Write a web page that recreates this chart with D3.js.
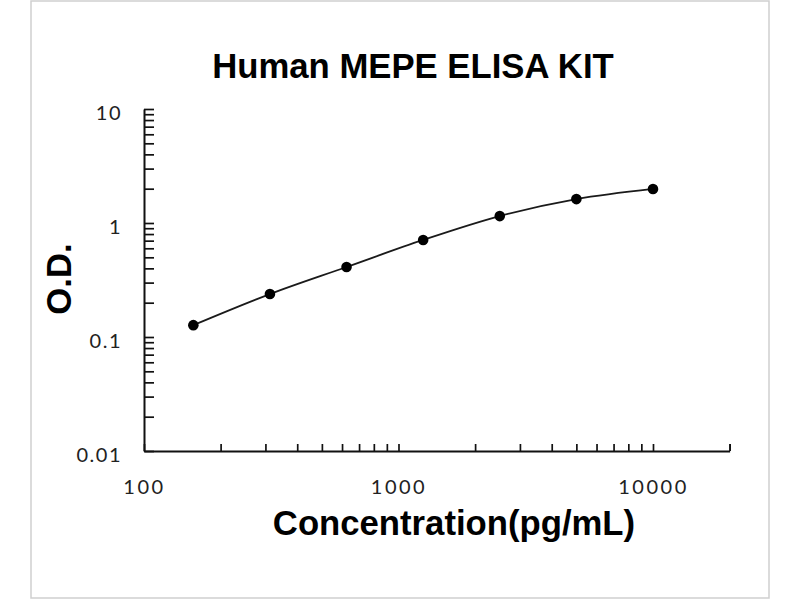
<!DOCTYPE html>
<html>
<head>
<meta charset="utf-8">
<script src="https://cdn.jsdelivr.net/npm/d3@7"></script>
<style>
  body { margin: 0; background: #fff; }
  svg { display: block; }
</style>
</head>
<body>
<svg id="chart" width="800" height="600"></svg>
<script>
// standard curve data
const concentrations = [156.25, 312.5, 625, 1250, 2500, 5000, 10000];
const odValues = [0.127, 0.238, 0.411, 0.71, 1.15, 1.62, 1.99];

const xDecades = [100, 1000, 10000];
const yDecades = [0.01, 0.1, 1, 10];
const xTickLabels = ["100", "1000", "10000"];
const yTickLabels = ["0.01", "0.1", "1", "10"];

const titleText = "Human MEPE ELISA KIT";
const xLabelText = "Concentration(pg/mL)";
const yLabelText = "O.D.";

const svg = d3.select("#chart");

// light frame round the picture
svg.append("rect")
  .attr("x", 31).attr("y", 1)
  .attr("width", 738).attr("height", 597)
  .attr("fill", "none")
  .attr("stroke", "#cfcfcf")
  .attr("stroke-width", 1.5);

const xScale = d3.scaleLog().domain([100, 20000]).range([144, 729.6]);
const yScale = d3.scaleLog().domain([0.01, 10]).range([451, 109]);

// minor ticks 1..9 per decade
const xTicks = [];
xDecades.forEach((d) => {
  for (let i = 1; i < 10; i++) {
    const v = d * i;
    if (v <= 20000) xTicks.push(v);
  }
});
xTicks.push(20000);
const yTicks = [];
yDecades.slice(0, 3).forEach((d) => {
  for (let i = 1; i < 10; i++) yTicks.push(d * i);
});
yTicks.push(10);

const xAxis = d3.axisBottom(xScale)
  .tickValues(xTicks)
  .tickSizeInner(-7)
  .tickSizeOuter(0)
  .tickPadding(29)
  .tickFormat((d) => {
    const i = xDecades.indexOf(d);
    return i >= 0 ? xTickLabels[i] : "";
  });

const yAxis = d3.axisLeft(yScale)
  .tickValues(yTicks)
  .tickSizeInner(-10)
  .tickSizeOuter(0)
  .tickPadding(22)
  .tickFormat((d) => {
    const i = yDecades.findIndex((v) => Math.abs(v - d) < v * 1e-6);
    return i >= 0 ? yTickLabels[i] : "";
  });

const gx = svg.append("g")
  .attr("transform", `translate(0,${yScale(0.01)})`)
  .call(xAxis);
const gy = svg.append("g")
  .attr("transform", `translate(${xScale(100)},0)`)
  .call(yAxis);

[gx, gy].forEach((g) => {
  g.select(".domain").attr("stroke", "#111").attr("stroke-width", 2);
  g.selectAll(".tick line").attr("stroke", "#111").attr("stroke-width", 1.7);
  g.selectAll(".tick text")
    .attr("fill", "#222")
    .style("font-family", "Lato, 'Open Sans', sans-serif")
    .style("font-size", "20px");
});
gx.selectAll(".tick text").style("letter-spacing", "2.5px");
gy.selectAll(".tick text").style("letter-spacing", "1.5px").attr("dy", "0.5em");

// fitted curve
const line = d3.line()
  .x((d, i) => xScale(concentrations[i]))
  .y((d) => yScale(d))
  .curve(d3.curveCatmullRom.alpha(0.5));

svg.append("path")
  .datum(odValues)
  .attr("d", line)
  .attr("fill", "none")
  .attr("stroke", "#1a1a1a")
  .attr("stroke-width", 1.8);

svg.selectAll(".pt")
  .data(odValues)
  .enter()
  .append("circle")
  .attr("class", "pt")
  .attr("cx", (d, i) => xScale(concentrations[i]))
  .attr("cy", (d) => yScale(d))
  .attr("r", 5.3)
  .attr("fill", "#000");

// titles
const boldFont = "'Liberation Sans', Arial, sans-serif";
svg.append("text")
  .attr("x", 413).attr("y", 78)
  .attr("text-anchor", "middle")
  .style("font-family", boldFont)
  .style("font-weight", "bold")
  .style("font-size", "34.7px")
  .attr("fill", "#000")
  .text(titleText);

svg.append("text")
  .attr("x", 454).attr("y", 535)
  .attr("text-anchor", "middle")
  .style("font-family", boldFont)
  .style("font-weight", "bold")
  .style("font-size", "34.7px")
  .attr("fill", "#000")
  .text(xLabelText);

svg.append("text")
  .attr("transform", "translate(71,279) rotate(-90)")
  .attr("text-anchor", "middle")
  .style("font-family", boldFont)
  .style("font-weight", "bold")
  .style("font-size", "34.7px")
  .attr("fill", "#000")
  .text(yLabelText);
</script>
</body>
</html>
